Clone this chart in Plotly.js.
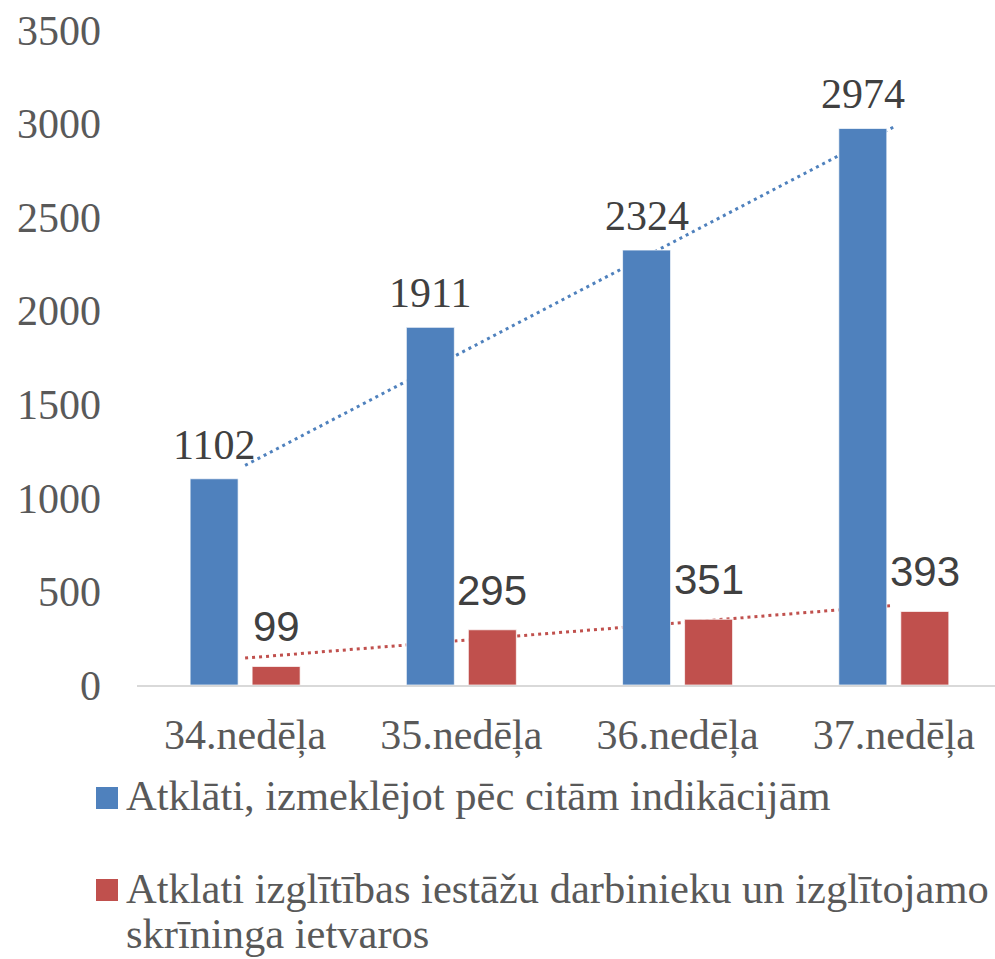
<!DOCTYPE html>
<html>
<head>
<meta charset="utf-8">
<script src="https://cdn.plot.ly/plotly-3.0.1.min.js"></script>
<style>html,body{margin:0;padding:0;background:#fff;}#chart{width:995px;height:959px;}</style>
</head>
<body>
<div id="chart"></div>
<script>
// ---- data ----
const categories = ["34.nedēļa", "35.nedēļa", "36.nedēļa", "37.nedēļa"];
const seriesNames = [
  "Atklāti, izmeklējot pēc citām indikācijām",
  "Atklati izglītības iestāžu darbinieku un izglītojamo<br>skrīninga ietvaros"
];
const otherIndications = [1102, 1911, 2324, 2974];
const schoolScreening = [99, 295, 351, 393];
const yTicks = [0, 500, 1000, 1500, 2000, 2500, 3000, 3500];

// ---- styles ----
const BLUE = "#4F81BD", RED = "#C0504D";
const SERIF = '"Liberation Serif", "Times New Roman", serif';
const SANS = '"Liberation Sans", Arial, sans-serif';

// linear trend (least squares) over category index
function linFit(vals) {
  const n = vals.length;
  const xs = vals.map((_, i) => i);
  const mx = xs.reduce((a, b) => a + b, 0) / n;
  const my = vals.reduce((a, b) => a + b, 0) / n;
  let sxy = 0, sxx = 0;
  for (let i = 0; i < n; i++) { sxy += (xs[i] - mx) * (vals[i] - my); sxx += (xs[i] - mx) ** 2; }
  const b = sxy / sxx, a = my - b * mx;
  return [a, a + b * (n - 1)];
}
const tBlue = linFit(otherIndications);
const tRed = linFit(schoolScreening);
const last = categories.length - 1;

// geometry
const W = 995, H = 959, L = 137, R = 0, T = 30, B = 274;
const pw = W - L - R, ph = H - T - B;
const XR = [-0.5, 3.468];
const BARGAP = 0.4265, GROUPGAP = 0.226;
const catW = pw / (XR[1] - XR[0]);
const barOff = (1 - BARGAP) * catW / 4; // pixel offset of each bar centre from category centre
const px = p => (p - L) / pw;
const py = p => (H - B - p) / ph;

const traces = [
  {
    type: "bar", x: categories, y: otherIndications, name: seriesNames[0],
    marker: { color: BLUE, line: { color: "rgba(255,255,255,0.7)", width: 1 } },
    showlegend: false, hoverinfo: "skip"
  },
  {
    type: "bar", x: categories, y: schoolScreening, name: seriesNames[1],
    marker: { color: RED, line: { color: "rgba(255,255,255,0.7)", width: 1 } },
    showlegend: false, hoverinfo: "skip"
  }
];

const shapes = [
  { type: "line", xref: "x", yref: "y", x0: 0, x1: last, y0: tBlue[0], y1: tBlue[1],
    line: { color: BLUE, width: 3, dash: "3px,4px" }, layer: "below" },
  { type: "line", xref: "x", yref: "y", x0: 0, x1: last, y0: tRed[0], y1: tRed[1],
    line: { color: RED, width: 3, dash: "3px,4px" }, layer: "below" },
  // legend swatches
  { type: "rect", xref: "paper", yref: "paper", x0: px(96), x1: px(118), y0: py(809), y1: py(787),
    fillcolor: BLUE, line: { width: 0 } },
  { type: "rect", xref: "paper", yref: "paper", x0: px(96), x1: px(118), y0: py(901), y1: py(879),
    fillcolor: RED, line: { width: 0 } }
];

const annotations = [];
// data labels
categories.forEach((c, i) => {
  annotations.push({ xref: "x", yref: "y", x: c, y: otherIndications[i], xshift: -barOff,
    yanchor: "bottom", yshift: 9, showarrow: false, text: String(otherIndications[i]),
    font: { family: SERIF, size: 42, color: "#404040" } });
  annotations.push({ xref: "x", yref: "y", x: c, y: schoolScreening[i], xshift: barOff,
    yanchor: "bottom", yshift: 14, showarrow: false, text: String(schoolScreening[i]),
    font: { family: SANS, size: 42, color: "#404040" } });
});
// legend text
const legFont = { family: SERIF, size: 42.5, color: "#595959" };
const legLines = [
  [seriesNames[0], 795.5],
  [seriesNames[1].split("<br>")[0], 888.5],
  [seriesNames[1].split("<br>")[1], 933]
];
legLines.forEach(([t, yc]) => {
  annotations.push({ xref: "paper", yref: "paper", x: px(124), y: py(yc), xanchor: "left",
    yanchor: "middle", text: t, showarrow: false, align: "left", font: legFont });
});

const layout = {
  width: W, height: H,
  margin: { l: L, r: R, t: T, b: B, pad: 0 },
  paper_bgcolor: "#fff", plot_bgcolor: "#fff",
  barmode: "group", bargap: BARGAP, bargroupgap: GROUPGAP,
  showlegend: false,
  xaxis: {
    type: "category", range: XR, fixedrange: true,
    showline: true, linecolor: "#D9D9D9", linewidth: 2,
    showgrid: false, zeroline: false, ticks: "",
    ticklabelstandoff: 12,
    tickfont: { family: SERIF, size: 42, color: "#595959" }
  },
  yaxis: {
    range: [0, 3500], tickvals: yTicks, ticktext: yTicks.map(String),
    showline: false, showgrid: false, zeroline: false, ticks: "",
    ticklabelstandoff: 35,
    tickfont: { family: SERIF, size: 42, color: "#595959" }
  },
  shapes: shapes,
  annotations: annotations
};

Plotly.newPlot("chart", traces, layout, { displayModeBar: false, staticPlot: true });
</script>
</body>
</html>
